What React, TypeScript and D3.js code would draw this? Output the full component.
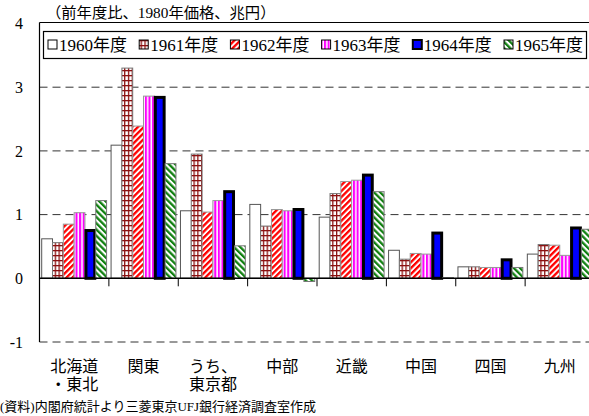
import React from "react";
import * as d3 from "d3";

const categories = ["北海道\n・東北", "関東", "うち、\n東京都", "中部", "近畿", "中国", "四国", "九州"];
const seriesNames = ["1960年度", "1961年度", "1962年度", "1963年度", "1964年度", "1965年度"];
const v1960 = [0.62, 2.09, 1.06, 1.16, 0.96, 0.44, 0.18, 0.38];
const v1961 = [0.56, 3.3, 1.95, 0.82, 1.33, 0.3, 0.18, 0.53];
const v1962 = [0.85, 2.39, 1.04, 1.08, 1.52, 0.39, 0.17, 0.52];
const v1963 = [1.03, 2.86, 1.22, 1.06, 1.54, 0.38, 0.17, 0.36];
const v1964 = [0.75, 2.84, 1.36, 1.08, 1.62, 0.71, 0.29, 0.79];
const v1965 = [1.22, 1.8, 0.51, -0.05, 1.36, 0.01, 0.17, 0.77];
const seriesValues = [v1960, v1961, v1962, v1963, v1964, v1965];
const yTicks = [-1, 0, 1, 2, 3, 4];
const unitLabel = "（前年度比、1980年価格、兆円）";
const sourceNote = "(資料)内閣府統計より三菱東京UFJ銀行経済調査室作成";

const W = 589;
const H = 416;
const left = 39.5;
const right = 594.5;
const top = 23.5;
const bottom = 342;

const fills = ["#ffffff", "url(#pGrid)", "url(#pRed)", "url(#pMag)", "#0000ff", "url(#pGreen)"];
const strokes = ["#555", "#777", "#999", "#999", "#000", "#777"];
const strokeWidths = [1, 1, 1, 1, 3, 1];

const FONT = "'Liberation Serif', 'Noto Sans CJK JP', serif";

export default function App() {
  const x = d3.scaleBand<string>().domain(categories).range([left, right]).paddingInner(0).paddingOuter(0);
  const bw = x.bandwidth();
  const x1 = d3.scaleBand<string>().domain(seriesNames).range([2.2, bw - 2.3]).padding(0);
  const y = d3.scaleLinear().domain([-1, 4]).range([bottom, top]);
  const y0 = y(0);

  return (
    <svg width={W} height={H} style={{ position: "absolute", left: 0, top: 0, fontFamily: FONT }}>
      <defs>
        <pattern id="pGrid" patternUnits="userSpaceOnUse" width={3.8} height={5} x={0} y={0}>
          <rect width={3.8} height={5} fill="#fff" />
          <rect x={0} y={0} width={1.3} height={5} fill="#8b1010" />
          <rect x={0} y={0} width={3.8} height={1.3} fill="#8b1010" />
        </pattern>
        <pattern id="pRed" patternUnits="userSpaceOnUse" width={4.2} height={4.2} patternTransform="rotate(45)">
          <rect width={4.2} height={4.2} fill="#fff" />
          <rect width={2.3} height={4.2} fill="#ff0000" />
        </pattern>
        <pattern id="pMag" patternUnits="userSpaceOnUse" width={3.6} height={4}>
          <rect width={3.6} height={4} fill="#fff" />
          <rect width={2.1} height={4} fill="#ff00ff" />
        </pattern>
        <pattern id="pGreen" patternUnits="userSpaceOnUse" width={4.4} height={4.4} patternTransform="rotate(-45)">
          <rect width={4.4} height={4.4} fill="#fff" />
          <rect width={2.3} height={4.4} fill="#108010" />
        </pattern>
      </defs>

      <text x={46} y={18} fontSize={15.3} fill="#000">{unitLabel}</text>

      {/* gridlines */}
      {yTicks.filter((t) => t !== 0 && t !== 4).map((t) => (
        <line key={t} x1={left} x2={right} y1={y(t)} y2={y(t)} stroke="#333" strokeWidth={1} strokeDasharray="8,5" />
      ))}

      {/* frame */}
      <line x1={left} x2={right} y1={22.5} y2={22.5} stroke="#000" strokeWidth={1.2} />
      <line x1={left} x2={left} y1={22.5} y2={bottom} stroke="#000" strokeWidth={1.2} />

      {/* y tick labels */}
      {yTicks.map((t) => (
        <text key={t} x={23} y={y(t)} dy="0.35em" textAnchor="end" fontSize={16} fill="#000">{t}</text>
      ))}

      {/* bars */}
      {categories.map((c, ci) => (
        <g key={c} transform={`translate(${x(c)},0)`}>
          {seriesNames.map((s, si) => {
            const v = seriesValues[si][ci];
            const yy = Math.min(y(v), y0);
            const h = Math.max(Math.abs(y(v) - y0), 0.5);
            const bx = x1(s)!;
            const inset = si === 4 ? 1 : 0;
            return (
              <rect
                key={s}
                x={bx + inset}
                y={yy}
                width={x1.bandwidth() - inset * 2}
                height={h}
                fill={fills[si]}
                stroke={strokes[si]}
                strokeWidth={strokeWidths[si]}
              />
            );
          })}
        </g>
      ))}

      {/* zero line and category ticks */}
      <line x1={left} x2={right} y1={y0} y2={y0} stroke="#000" strokeWidth={1.5} />
      {categories.slice(1).map((c) => (
        <line key={c} x1={x(c)} x2={x(c)} y1={y0} y2={y0 + 8} stroke="#000" strokeWidth={1} />
      ))}

      {/* category labels */}
      {categories.map((c) => {
        const lines = c.split("\n");
        const cx = x(c)! + bw / 2;
        return (
          <text key={c} x={cx} y={372} textAnchor="middle" fontSize={16} fill="#000">
            {lines.map((l, i) => (
              <tspan key={i} x={cx} dy={i === 0 ? 0 : 18}>{l}</tspan>
            ))}
          </text>
        );
      })}

      {/* legend */}
      <rect x={43.5} y={31.5} width={543} height={27} fill="#fff" stroke="#000" strokeWidth={1.2} />
      {seriesNames.map((s, i) => {
        const lx = 48 + i * 91.2;
        return (
          <g key={s}>
            <rect x={lx} y={40} width={9} height={9} fill={fills[i]} stroke="#000" strokeWidth={i === 4 ? 2 : 1} />
            <text x={lx + 11} y={51} fontSize={17} fill="#000">{s}</text>
          </g>
        );
      })}

      <text x={0} y={411} fontSize={13} fill="#000">{sourceNote}</text>
    </svg>
  );
}
